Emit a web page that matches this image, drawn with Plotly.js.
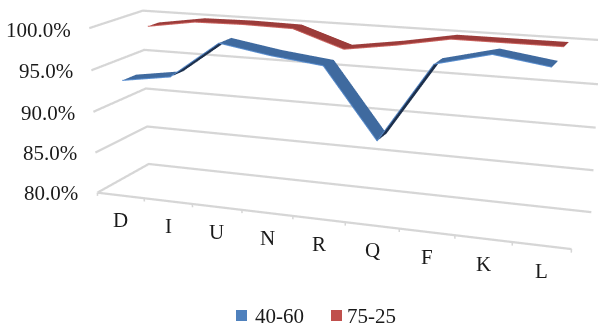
<!DOCTYPE html><html><head><meta charset="utf-8"><script src="https://cdn.plot.ly/plotly-3.0.1.min.js"></script>
<style>html,body{margin:0;width:598px;height:329px;overflow:hidden;background:#fff}#g{position:absolute;left:-190px;top:-409px}</style></head><body><div id="g"></div>
<script>
// Categories and series, in percent
var categories = ['D','I','U','N','R','Q','F','K','L'];
var series4060 = [93.7,94.6,99,98,97.3,89.3,98.4,99.9,99];
var series7525 = [99,99.9,100,99.9,97.9,98.8,99.9,99.9,99.9];
var levels = [80,85,90,95,100];
var levelLabels = ['80.0%','85.0%','90.0%','95.0%','100.0%'];

// Oversized canvas: a 45 degree field of view on this height gives a long-lens look,
// and the page clips the graph to the window.
var SIZE = 1057, LEFT = -190, TOP = -409;
var FONT = {family:'"Liberation Serif", serif', size:21, color:'#1a1a1a'};
var GRID = '#d6d6d6';
var theta = 0.3489, phi = 0.2525, dist = 2.5857, depthRatio = 0.2271, heightRatio = 0.3520;

function px(x){return (x-LEFT)/SIZE}
function py(y){return 1-(y-TOP)/SIZE}
var mid = categories.map(function(c,i){return (i+.5)/categories.length});

function line3(x,y,z,color,width){
  return {type:'scatter3d',mode:'lines',x:x,y:y,z:z,line:{color:color,width:width},showlegend:false,hoverinfo:'skip'};
}

function ribbon(values,y0,y1,main,dark,edge,name){
  var x=[],y=[],z=[],i=[],j=[],k=[],fc=[];
  values.forEach(function(v,n){x.push(mid[n],mid[n]);y.push(y0,y1);z.push(v,v)});
  for(var n=0;n<values.length-1;n++){
    var a=2*n, rising=values[n+1]-values[n]>2;
    i.push(a,a+1);j.push(a+1,a+3);k.push(a+2,a+2);
    fc.push(rising?dark:main,rising?dark:main);
  }
  return [{type:'mesh3d',name:name,x:x,y:y,z:z,i:i,j:j,k:k,facecolor:fc,flatshading:true,
    lighting:{ambient:1,diffuse:0,specular:0,roughness:1,fresnel:0},hoverinfo:'skip',showscale:false},
    line3(mid,values.map(function(){return y0}),values,edge,2)];
}

var traces=[];
levels.forEach(function(z){traces.push(line3([0,0,1],[0,1,1],[z,z,z],GRID,4.5))});
traces.push(line3([0,1],[0,0],[80,80],GRID,4.5));
for(var t=0;t<=categories.length;t++){traces.push(line3([t/9,t/9],[0,0],[80,79.6],GRID,3))}
traces=traces.concat(ribbon(series7525,.64,.86,'#9c3c3a','#b04a47','#c9625e','75-25'));
traces=traces.concat(ribbon(series4060,.12,.38,'#3f6a9f','#1c2f4c','#5b8fd0','40-60'));

var notes=[];
var xShift=[-17,-16,-16,-16,-16], yShift=[0,0,-1,-1,-2];
levels.forEach(function(z,n){notes.push({x:0,y:0,z:z,text:levelLabels[n],showarrow:false,xanchor:'right',yanchor:'middle',xshift:xShift[n],yshift:yShift[n],font:FONT})});
categories.forEach(function(c,n){notes.push({x:mid[n],y:0,z:80,text:c,showarrow:false,xanchor:'center',yanchor:'middle',yshift:-25,font:FONT})});

var legendItems=[{text:'40-60',color:'#4f81bd',box:236,label:255},{text:'75-25',color:'#c0504d',box:331,label:347}];
var shapes=legendItems.map(function(l){return {type:'rect',xref:'paper',yref:'paper',x0:px(l.box),x1:px(l.box+11),y0:py(321),y1:py(310),fillcolor:l.color,line:{width:0}}});
var paperNotes=legendItems.map(function(l){return {xref:'paper',yref:'paper',x:px(l.label),y:py(316),text:l.text,showarrow:false,xanchor:'left',yanchor:'middle',font:FONT,xshift:-2}});

Plotly.newPlot('g',traces,{width:SIZE,height:SIZE,margin:{l:0,r:0,t:0,b:0},showlegend:false,paper_bgcolor:'rgba(0,0,0,0)',
  shapes:shapes,annotations:paperNotes,
  scene:{domain:{x:[0,1],y:[0,1]},bgcolor:'rgba(0,0,0,0)',aspectmode:'manual',
    aspectratio:{x:1.1,y:depthRatio*1.1,z:heightRatio*1.1},
    camera:{eye:{x:dist*Math.cos(phi)*Math.sin(theta),y:-dist*Math.cos(phi)*Math.cos(theta),z:dist*Math.sin(phi)},center:{x:0,y:0,z:0},up:{x:0,y:0,z:1}},
    xaxis:{visible:false,range:[-.05,1.05]},yaxis:{visible:false,range:[-.05,1.05]},zaxis:{visible:false,range:[79,101]},annotations:notes}},{displayModeBar:false});
</script></body></html>
